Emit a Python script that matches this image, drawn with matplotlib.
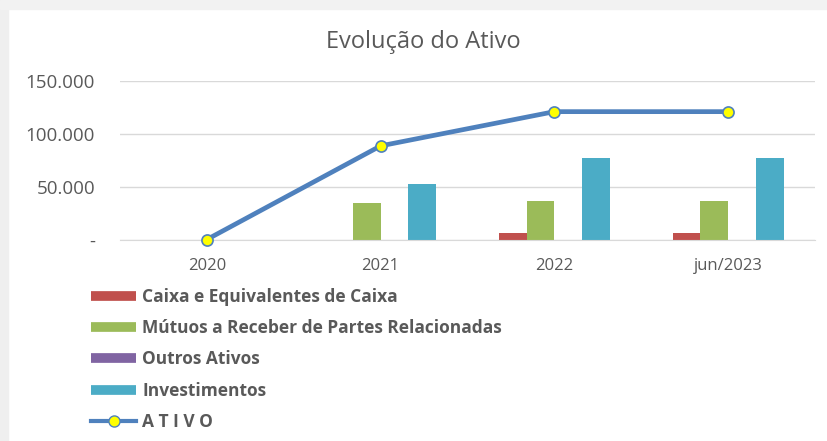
import matplotlib

matplotlib.use("Agg")
import matplotlib.pyplot as plt
import numpy as np
from matplotlib.lines import Line2D
from matplotlib.patches import Rectangle

periods = ["2020", "2021", "2022", "jun/2023"]
caixa = [0, 0, 6000, 6000]
mutuos = [0, 34700, 36400, 36400]
outros = [0, 0, 0, 0]
investimentos = [0, 52500, 77500, 77500]
ativo = [0, 88600, 121000, 121000]

series = [
    ("Caixa e Equivalentes de Caixa", caixa, "#C0504D"),
    ("Mútuos a Receber de Partes Relacionadas", mutuos, "#9BBB59"),
    ("Outros Ativos", outros, "#8064A2"),
    ("Investimentos", investimentos, "#4BACC6"),
]
line_color = "#4F81BD"
text_color = "#595959"

plt.rcParams["font.family"] = ["Open Sans", "DejaVu Sans"]

fig = plt.figure(figsize=(8.28, 4.41), dpi=100)
fig.patches.append(Rectangle((0, 0), 8 / 828, 1, transform=fig.transFigure,
                             color="#EFEFEF", zorder=0))
fig.patches.append(Rectangle((0, 1 - 9 / 441), 1, 9 / 441, transform=fig.transFigure,
                             color="#F2F2F2", zorder=0))

ax = fig.add_axes([120 / 828, 1 - 239.5 / 441, 695 / 828, 158.5 / 441])
x = np.arange(len(periods))
width = 0.16
offsets = [-1.5, -0.5, 0.5, 1.5]
for (label, values, color), off in zip(series, offsets):
    ax.bar(x + off * width, values, width, color=color, zorder=2)

ax.plot(x, ativo, color=line_color, lw=3.4, marker="o", markersize=8,
        markerfacecolor="#FFFF00", markeredgecolor=line_color, markeredgewidth=1.2,
        zorder=3, clip_on=False)

ax.set_xlim(-0.5, len(periods) - 0.5)
ax.set_ylim(0, 150000)
ax.set_yticks([0, 50000, 100000, 150000])
ax.set_yticklabels(["-", "50.000", "100.000", "150.000"])
ax.set_xticks(x, periods)
ax.tick_params(length=0, colors=text_color)
ax.tick_params(axis="y", pad=18, labelsize=13.5)
ax.tick_params(axis="x", pad=13, labelsize=12)
ax.grid(axis="y", color="#D9D9D9", lw=1, zorder=0)
for side in ["top", "right", "left"]:
    ax.spines[side].set_visible(False)
ax.spines["bottom"].set_color("#D9D9D9")

fig.text(423 / 828, 1 - 42 / 441, "Evolução do Ativo", ha="center", va="center",
         fontsize=17, color=text_color)

handles = [Line2D([], [], color=c, lw=7, solid_capstyle="butt") for _, _, c in series]
handles.append(Line2D([], [], color=line_color, lw=3, marker="o", markersize=8,
                      markerfacecolor="#FFFF00", markeredgecolor=line_color))
labels = [s[0] for s in series] + ["A T I V O"]
leg = fig.legend(handles, labels, loc="upper left", bbox_to_anchor=(91 / 828, 1 - 288 / 441),
                 frameon=False, borderpad=0, borderaxespad=0, handlelength=2.6,
                 handletextpad=0.35, labelspacing=0.76,
                 prop={"size": 12.5, "weight": "bold"})
for t in leg.get_texts():
    t.set_color(text_color)

fig.savefig("out.png", dpi=100)
